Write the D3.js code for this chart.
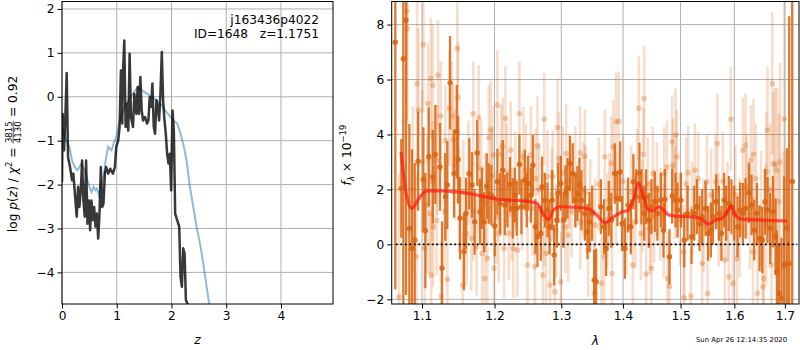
<!DOCTYPE html>
<html><head><meta charset="utf-8">
<script src="https://cdn.jsdelivr.net/npm/d3@7"></script>
<style>body{margin:0;background:#fff}</style>
</head><body><svg id="c" width="800" height="350"></svg>
<script>
// ---------------- DATA ----------------
// Left panel: log p(z) (dark line)
const pzZ = [0.000,0.012,0.037,0.061,0.086,0.110,0.147,0.183,0.208,0.245,0.269,0.294,0.318,0.343,0.367,0.391,0.416,0.440,0.465,0.489,0.514,0.538,0.563,0.587,0.612,0.636,0.661,0.685,0.709,0.734,0.758,0.783,0.807,0.844,0.881,0.930,0.966,0.991,1.028,1.052,1.076,1.101,1.113,1.138,1.162,1.187,1.211,1.235,1.260,1.297,1.321,1.358,1.382,1.407,1.431,1.456,1.480,1.517,1.554,1.578,1.602,1.627,1.651,1.676,1.700,1.725,1.749,1.774,1.798,1.823,1.847,1.872,1.896,1.920,1.945,1.969,1.994,2.018,2.043,2.067,2.104,2.141,2.165,2.190,2.214,2.239,2.263,2.300,2.340,2.360];
const pzLog = [-1.94,-0.39,-1.22,-0.46,0.54,-1.37,-1.60,-1.90,-1.75,-2.36,-2.73,-2.05,-2.51,-2.13,-1.45,-2.36,-2.73,-1.45,-2.89,-2.36,-3.04,-2.36,-2.81,-2.51,-2.96,-2.66,-3.23,-2.66,-1.60,-2.51,-2.43,-1.75,-1.60,-1.75,-1.64,-1.75,-1.60,-1.14,-0.99,-0.69,0.60,-0.61,0.52,1.28,-0.69,-0.16,-0.77,0.98,-0.46,-0.69,0.07,-0.39,0.22,-0.39,0.45,-0.31,-0.54,-0.46,-0.61,-0.54,-0.01,-0.23,0.30,-0.69,-0.84,-0.08,-0.23,-0.54,0.07,1.02,-0.08,-0.54,-0.84,-1.30,-1.52,-1.30,-2.13,-0.31,-0.77,-2.66,-2.81,-2.96,-4.10,-4.33,-3.45,-3.57,-4.63,-4.74,-4.75,-5.60];
// Left panel: chi2 curve (blue line)
const chiZ = [0.000,0.024,0.073,0.135,0.183,0.232,0.281,0.318,0.355,0.379,0.416,0.465,0.502,0.538,0.575,0.612,0.636,0.673,0.709,0.758,0.807,0.844,0.869,0.905,0.942,0.991,1.040,1.089,1.150,1.211,1.272,1.333,1.382,1.443,1.505,1.578,1.639,1.700,1.761,1.823,1.884,1.957,2.031,2.104,2.165,2.226,2.275,2.336,2.398,2.459,2.520,2.581,2.642,2.691,2.750];
const chiLogP = [-0.69,-0.77,-0.99,-1.14,-1.45,-1.60,-1.67,-1.60,-1.52,-1.60,-1.67,-1.90,-2.05,-2.17,-2.05,-2.13,-2.09,-2.24,-2.05,-1.83,-1.37,-1.14,-1.18,-1.22,-1.07,-0.92,-0.61,-0.42,-0.23,-0.08,0.03,0.14,0.20,0.16,0.11,0.05,-0.01,-0.05,-0.12,-0.20,-0.31,-0.42,-0.54,-0.61,-0.84,-1.14,-1.45,-2.05,-2.51,-2.96,-3.34,-3.80,-4.33,-4.74,-5.20];
const zTicks = [0,1,2,3,4];
const logpTicks = [-4,-3,-2,-1,0,1,2];

// Right panel: combined spectrum (dark orange)
const darkLam = [
1.0653,1.0730,1.0756,1.0791,1.0834,1.0869,1.0904,1.0948,1.1018,1.1044,
1.1089,1.1142,1.1177,1.1240,1.1267,1.1312,1.1339,1.1376,1.1431,1.1468,
1.1486,1.1513,1.1568,1.1596,1.1642,1.1679,1.1717,1.1753,1.1793,1.1821,
1.1850,1.1888,1.1917,1.1954,1.2003,1.2041,1.2079,1.2119,1.2148,1.2186,
1.2225,1.2265,1.2294,1.2324,1.2363,1.2393,1.2443,1.2473,1.2493,1.2534,
1.2564,1.2603,1.2634,1.2685,1.2705,1.2746,1.2786,1.2817,1.2858,1.2889,
1.2931,1.2951,1.2993,1.3034,1.3065,1.3097,1.3138,1.3180,1.3222,1.3254,
1.3286,1.3318,1.3373,1.3415,1.3447,1.3491,1.3523,1.3555,1.3632,1.3686,
1.3719,1.3763,1.3806,1.3862,1.3906,1.3951,1.3984,1.4030,1.4086,1.4131,
1.4175,1.4221,1.4278,1.4312,1.4359,1.4393,1.4440,1.4485,1.4544,1.4589,
1.4650,1.4696,1.4721,1.4802,1.4850,1.4910,1.4946,1.5006,1.5066,1.5126,
1.5199,1.5248,1.5298,1.5346,1.5394,1.5456,1.5505,1.5555,1.5593,1.5655,
1.5706,1.5754,1.5806,1.5844,1.5895,1.5945,1.5997,1.6061,1.6112,1.6164,
1.6216,1.6282,1.6333,1.6386,1.6439,1.6491,1.6544,1.6598,1.6650,1.6703,
1.6758,1.6810,1.6838,1.6879,1.6931,1.6986,1.7041,1.7088,1.7150];
const darkFlux = [
7.36,2.04,6.76,8.16,0.58,-0.15,0.16,3.03,2.36,0.50,
3.19,2.46,3.27,2.82,-0.87,1.73,2.16,5.88,2.58,4.10,
3.09,0.95,-0.27,1.13,2.56,2.16,0.82,3.33,1.19,1.67,
0.82,2.12,1.85,1.79,0.67,2.28,1.49,2.70,1.43,1.61,
2.18,1.31,1.79,1.31,2.91,1.37,2.34,1.61,2.22,1.79,
2.88,0.64,0.28,0.40,2.10,1.61,1.25,0.64,1.61,-0.39,
0.88,1.88,2.22,0.88,1.88,2.04,2.95,2.58,1.61,1.85,
2.16,1.61,1.13,0.46,0.82,1.13,-1.30,-1.36,1.37,0.64,
-0.15,1.31,0.88,2.58,1.67,2.64,0.76,-0.15,1.43,0.64,
2.28,1.73,2.60,1.73,1.13,1.73,0.88,1.37,1.55,1.13,
1.61,0.52,1.64,-0.45,1.76,1.61,1.25,1.61,0.16,1.13,
0.28,1.13,1.37,0.76,1.01,1.31,0.40,0.52,1.01,1.55,
1.13,0.40,1.61,1.13,1.49,1.37,1.13,0.64,1.25,1.13,
1.31,1.88,1.43,0.52,1.13,0.22,0.16,1.55,1.25,0.58,
1.19,0.28,-0.99,-1.78,-1.96,-0.73,0.60,-0.70,2.29];
const darkErr = [
9.0,1.8,9.0,10.0,3.8,3.6,2.8,1.8,1.9,2.1,
1.8,1.7,1.8,1.6,1.7,1.6,1.6,1.7,1.6,1.7,
1.6,1.5,1.4,1.3,1.3,1.2,1.2,1.2,1.2,1.1,
1.1,1.2,1.1,1.1,1.1,1.2,1.1,1.1,1.1,1.0,
1.0,1.1,1.0,1.0,1.1,1.0,1.1,1.0,1.0,1.0,
1.1,1.0,1.1,1.0,1.1,1.0,1.0,1.0,1.1,1.1,
1.0,1.1,1.0,1.0,1.0,1.1,1.0,1.1,1.0,1.0,
1.0,1.1,1.0,1.0,1.1,1.0,1.1,1.2,1.0,1.0,
1.0,1.0,1.0,1.1,1.0,1.1,1.0,1.1,1.0,1.0,
1.0,1.0,1.1,1.0,1.0,1.0,1.0,1.0,1.1,1.0,
1.0,1.0,1.1,1.0,1.0,1.0,1.0,1.0,1.0,1.0,
1.0,1.0,1.0,1.0,1.0,1.0,1.0,1.0,1.0,1.0,
1.0,1.0,1.0,1.0,1.0,1.0,1.0,1.1,1.0,1.1,
1.1,1.1,1.1,1.1,1.1,1.2,1.2,1.2,1.2,1.3,
1.3,1.4,1.5,1.8,2.2,3.2,2.9,9.0,12.0];

// Right panel: individual beam spectra (light orange)
const lightLam = [
1.0700,1.0800,1.0808,1.0880,1.0927,1.0935,1.0953,1.1000,1.1018,1.1036,
1.1071,1.1080,1.1106,1.1116,1.1120,1.1140,1.1142,1.1150,1.1195,1.1204,
1.1213,1.1249,1.1258,1.1300,1.1312,1.1339,1.1366,1.1403,1.1421,1.1440,
1.1476,1.1486,1.1500,1.1550,1.1560,1.1605,1.1630,1.1669,1.1697,1.1700,
1.1745,1.1774,1.1780,1.1811,1.1821,1.1860,1.1870,1.1897,1.1917,1.1946,
1.1960,1.1984,1.1993,1.2030,1.2041,1.2060,1.2090,1.2098,1.2118,1.2138,
1.2157,1.2180,1.2206,1.2235,1.2250,1.2274,1.2300,1.2333,1.2363,1.2400,
1.2423,1.2460,1.2483,1.2534,1.2560,1.2594,1.2603,1.2634,1.2660,1.2716,
1.2736,1.2740,1.2766,1.2786,1.2827,1.2850,1.2869,1.2900,1.2920,1.2941,
1.2962,1.2993,1.3020,1.3066,1.3076,1.3107,1.3128,1.3160,1.3220,1.3297,
1.3300,1.3350,1.3373,1.3383,1.3426,1.3460,1.3523,1.3540,1.3600,1.3642,
1.3686,1.3697,1.3740,1.3773,1.3806,1.3816,1.3839,1.3880,1.3884,1.3929,
1.4000,1.4060,1.4140,1.4165,1.4209,1.4240,1.4267,1.4301,1.4330,1.4347,
1.4359,1.4393,1.4420,1.4460,1.4485,1.4510,1.4532,1.4580,1.4640,1.4700,
1.4708,1.4756,1.4766,1.4802,1.4850,1.4860,1.4900,1.4910,1.4934,1.4990,
1.5053,1.5066,1.5100,1.5138,1.5187,1.5210,1.5260,1.5320,1.5394,1.5420,
1.5481,1.5493,1.5560,1.5643,1.5680,1.5700,1.5780,1.5819,1.5870,1.5895,
1.5933,1.5972,1.6020,1.6049,1.6100,1.6164,1.6216,1.6240,1.6300,1.6321,
1.6361,1.6373,1.6420,1.6452,1.6520,1.6558,1.6570,1.6620,1.6624,1.6650,
1.6700,1.6730,1.6744,1.6771,1.6800,1.6838,1.6879,1.6900,1.6972,1.6986];
const lightFlux = [
-1.90,8.50,7.85,2.00,-0.45,5.85,4.88,3.00,7.28,-0.15,
1.43,5.13,1.13,6.04,-1.12,2.30,5.79,0.64,0.88,3.07,
6.16,4.67,-1.90,1.20,3.79,-1.27,4.95,4.67,3.82,2.90,
7.13,5.35,1.60,-1.48,1.90,0.40,2.60,0.22,4.76,1.20,
-0.08,4.62,2.20,2.76,-0.33,-1.24,1.50,-0.51,3.88,4.16,
2.50,3.25,-0.87,1.00,5.07,0.40,2.00,3.28,3.55,-0.15,
4.58,2.60,0.40,3.43,1.10,-0.15,2.30,-0.21,4.76,1.60,
3.19,2.70,-0.75,3.25,1.30,-0.81,2.40,3.58,2.00,-1.12,
4.56,0.90,-0.33,2.46,-1.48,1.80,2.48,-1.72,0.50,4.25,
3.12,-1.36,2.60,0.64,3.31,0.34,2.28,1.20,2.50,3.33,
0.80,2.00,3.21,1.88,-0.21,1.40,-1.78,0.70,2.20,-1.42,
-0.45,3.19,0.90,1.61,2.95,-1.06,3.55,1.70,4.46,4.48,
2.30,0.60,1.90,-0.75,0.82,2.50,4.95,0.40,1.40,3.28,
5.31,-1.08,2.20,0.60,-0.87,2.58,1.03,2.00,1.10,0.50,
2.58,2.82,-1.24,-1.52,3.73,2.88,1.90,3.98,3.19,0.90,
-0.27,-1.94,2.20,2.61,-1.88,1.30,2.70,2.40,-0.69,0.70,
2.28,-1.78,1.80,2.28,3.67,0.90,2.30,-0.57,1.20,-1.18,
4.56,-1.42,1.80,-0.51,0.60,3.43,3.61,2.10,1.00,3.07,
-0.27,3.28,2.40,-1.78,1.30,-1.54,-1.24,0.70,2.64,4.16,
2.00,-0.75,5.85,2.95,2.90,2.70,1.55,3.00,-0.81,4.56];
const lightErr = [
4.5,4.0,3.5,3.0,3.0,3.0,3.0,2.6,2.5,2.5,
2.5,2.2,2.2,2.2,2.2,2.2,2.2,2.2,2.0,2.0,
2.0,2.0,2.0,2.0,2.0,2.0,2.1,2.0,2.0,2.0,
2.1,2.0,1.9,1.9,1.9,1.9,1.9,1.9,1.9,1.8,
1.8,1.9,1.8,1.8,1.8,1.8,1.8,1.8,1.9,1.8,
1.8,1.8,1.8,1.7,2.0,1.8,1.7,1.8,1.8,1.8,
1.9,1.8,1.7,1.8,1.7,1.8,1.8,1.7,1.9,1.8,
1.8,1.7,1.8,1.8,1.7,1.8,1.8,1.8,1.7,1.8,
1.7,1.7,1.8,1.7,1.8,1.7,1.7,1.8,1.7,1.8,
1.7,1.8,1.7,1.7,1.8,1.7,1.7,1.7,1.8,1.7,
1.7,1.7,1.7,1.7,1.7,1.7,1.8,1.7,1.7,1.7,
1.7,1.7,1.7,1.7,1.7,1.7,1.7,1.7,1.8,1.8,
1.7,1.7,1.7,1.7,1.7,1.7,1.9,1.7,1.7,1.7,
1.9,1.7,1.7,1.7,1.7,1.7,1.7,1.7,1.7,1.7,
1.7,1.7,1.7,1.7,1.7,1.7,1.7,1.7,1.7,1.7,
1.7,1.7,1.7,1.7,1.7,1.7,1.7,1.7,1.7,1.7,
1.7,1.7,1.7,1.7,1.8,1.7,1.8,1.7,1.8,1.8,
1.9,1.8,1.8,1.8,1.8,1.9,1.9,1.9,1.9,2.0,
2.0,2.0,2.0,2.0,2.1,2.1,2.1,2.2,2.2,2.3,
2.4,2.4,2.6,2.6,2.8,3.0,3.2,3.6,4.2,4.5];

// Right panel: best-fit model (red)
const modelLam = [1.0726,1.0790,1.0865,1.0974,1.1062,1.1240,1.1652,1.2000,1.2523,1.2624,1.2720,1.2801,1.2878,1.2982,1.3245,1.3458,1.3566,1.3702,1.3839,1.3980,1.4090,1.4175,1.4261,1.4347,1.4433,1.4510,1.4607,1.4696,1.4784,1.4934,1.5234,1.5387,1.5510,1.5636,1.5793,1.5888,1.5940,1.6016,1.6112,1.6572,1.7048];
const modelFlux = [3.37,1.90,1.31,1.73,1.95,1.95,1.85,1.66,1.55,1.49,1.13,0.91,1.25,1.37,1.35,1.27,1.07,0.79,1.00,1.18,1.25,1.61,2.24,1.73,1.25,1.22,1.37,1.25,1.07,1.03,1.00,0.91,0.74,0.88,1.00,1.27,1.40,1.07,0.93,0.88,0.85];
const zeroLam = [1.066,1.725];
const lamTicks = [1.1,1.2,1.3,1.4,1.5,1.6,1.7];
const fluxTicks = [-2,0,2,4,6,8];

// ---------------- DRAWING ----------------
const FONT = "'DejaVu Sans', sans-serif";
const FS = 12.2;
const svg = d3.select('#c');
svg.append('rect').attr('width',800).attr('height',350).attr('fill','#fff');
const defs = svg.append('defs');

function grid(g, xs, ys, X, Y, box){
  g.selectAll(null).data(xs).join('line')
    .attr('x1',d=>X(d)).attr('x2',d=>X(d)).attr('y1',box.y0).attr('y2',box.y1)
    .attr('stroke','#b0b0b0').attr('stroke-width',1);
  g.selectAll(null).data(ys).join('line')
    .attr('y1',d=>Y(d)).attr('y2',d=>Y(d)).attr('x1',box.x0).attr('x2',box.x1)
    .attr('stroke','#b0b0b0').attr('stroke-width',1);
}
function styleAxis(g){
  g.attr('font-family',FONT).attr('font-size',FS);
  g.select('.domain').remove();
  g.selectAll('.tick line').attr('stroke','#000');
  g.selectAll('.tick text').attr('fill','#000');
}
function frame(box){
  svg.append('rect').attr('x',box.x0).attr('y',box.y0)
    .attr('width',box.x1-box.x0).attr('height',box.y1-box.y0)
    .attr('fill','none').attr('stroke','#000').attr('stroke-width',1);
}
function clip(id, box){
  defs.append('clipPath').attr('id',id).append('rect')
    .attr('x',box.x0).attr('y',box.y0).attr('width',box.x1-box.x0).attr('height',box.y1-box.y0);
}

// ----- Left panel -----
const LB = {x0:62, x1:333, y0:1.5, y1:304};
const zX = d3.scaleLinear().domain([0,4.95]).range([LB.x0,LB.x1]);
const pY = d3.scaleLinear().domain([-4.72,2.17]).range([LB.y1,LB.y0]);
clip('clipL', LB);
grid(svg.append('g'), zTicks, logpTicks, zX, pY, LB);
const gLd = svg.append('g').attr('clip-path','url(#clipL)');
const lineL = d3.line().x(d=>zX(d[0])).y(d=>pY(d[1]));
gLd.append('path').datum(d3.zip(chiZ, chiLogP)).attr('d',lineL)
  .attr('fill','none').attr('stroke','#1f77b4').attr('stroke-opacity',0.5).attr('stroke-width',2);
gLd.append('path').datum(d3.zip(pzZ, pzLog)).attr('d',lineL)
  .attr('fill','none').attr('stroke','#000').attr('stroke-opacity',0.78).attr('stroke-width',2.5)
  .attr('stroke-linejoin','round');
svg.append('g').attr('transform',`translate(0,${LB.y1})`)
  .call(d3.axisBottom(zX).tickValues(zTicks).tickSize(4.5).tickPadding(3).tickFormat(d3.format('d'))).call(styleAxis);
svg.append('g').attr('transform',`translate(${LB.x0},0)`)
  .call(d3.axisLeft(pY).tickValues(logpTicks).tickSize(4.5).tickPadding(3).tickFormat(d3.format('d'))).call(styleAxis);
frame(LB);

// annotation
const ann = svg.append('g').attr('font-family',FONT).attr('font-size',FS).attr('text-anchor','end').attr('fill','#000');
ann.append('text').attr('x',319).attr('y',24).text('j163436p4022');
ann.append('text').attr('x',319).attr('y',38).style('white-space','pre').text('ID=1648   z=1.1751');

// x label
svg.append('text').attr('x',(LB.x0+LB.x1)/2).attr('y',344).attr('text-anchor','middle')
  .attr('font-family',FONT).attr('font-size',FS).attr('font-style','italic').text('z');

// y label with fraction
(function(){
  const g = svg.append('g').attr('transform','translate(17,154) rotate(-90)')
    .attr('font-family',FONT).attr('fill','#000');
  const inner = g.append('g');
  const t1 = inner.append('text').attr('font-size',FS).attr('x',0).attr('y',0).style('white-space','pre');
  t1.append('tspan').text('log ');
  t1.append('tspan').attr('font-style','italic').text('p');
  t1.append('tspan').text('(');
  t1.append('tspan').attr('font-style','italic').text('z');
  t1.append('tspan').text(') / ');
  t1.append('tspan').attr('font-style','italic').text('χ');
  t1.append('tspan').attr('font-size',8.5).attr('dy',-5).text('2');
  t1.append('tspan').attr('dy',5).text(' = ');
  const w1 = t1.node().getComputedTextLength();
  const num = inner.append('text').attr('font-size',8.5).attr('text-anchor','middle').attr('y',-5.5).text('3815');
  const den = inner.append('text').attr('font-size',8.5).attr('text-anchor','middle').attr('y',3.5).text('4130');
  const wf = Math.max(num.node().getComputedTextLength(), den.node().getComputedTextLength()) + 1;
  num.attr('x', w1 + wf/2); den.attr('x', w1 + wf/2);
  inner.append('line').attr('x1',w1).attr('x2',w1+wf).attr('y1',-3.8).attr('y2',-3.8).attr('stroke','#000').attr('stroke-width',0.7);
  const t3 = inner.append('text').attr('font-size',FS).attr('x',w1+wf).attr('y',0).style('white-space','pre').text(' = 0.92');
  const W = w1 + wf + t3.node().getComputedTextLength();
  inner.attr('transform',`translate(${-W/2},0)`);
})();

// ----- Right panel -----
const RB = {x0:391.7, x1:799, y0:1.5, y1:304};
const lX = d3.scaleLog().domain([1.0607,1.729]).range([RB.x0,RB.x1]);
const fY = d3.scaleLinear().domain([-2.17,8.84]).range([RB.y1,RB.y0]);
clip('clipR', RB);
grid(svg.append('g'), lamTicks, fluxTicks, lX, fY, RB);
const gR = svg.append('g').attr('clip-path','url(#clipR)');
const ORANGE = 'rgb(217,102,18)';

function spectrum(lam, flux, err, barOpacity, dotOpacity, r, bw){
  const pts = d3.zip(lam, flux, err);
  const g = gR.append('g');
  g.selectAll(null).data(pts).join('line')
    .attr('x1',d=>lX(d[0])).attr('x2',d=>lX(d[0]))
    .attr('y1',d=>fY(d[1]-d[2])).attr('y2',d=>fY(d[1]+d[2]))
    .attr('stroke',ORANGE).attr('stroke-opacity',barOpacity).attr('stroke-width',bw);
  g.selectAll(null).data(pts).join('circle')
    .attr('cx',d=>lX(d[0])).attr('cy',d=>fY(d[1])).attr('r',r)
    .attr('fill',ORANGE).attr('fill-opacity',dotOpacity);
}
spectrum(lightLam, lightFlux, lightErr, 0.22, 0.32, 2.8, 2.6);
spectrum(darkLam, darkFlux, darkErr, 0.88, 0.9, 2.7, 2.3);

gR.append('path').datum(d3.zip(modelLam, modelFlux))
  .attr('d', d3.line().x(d=>lX(d[0])).y(d=>fY(d[1])).curve(d3.curveMonotoneX))
  .attr('fill','none').attr('stroke','#ff1a10').attr('stroke-opacity',0.72).attr('stroke-width',3.2)
  .attr('stroke-linejoin','round');
gR.append('path').datum(zeroLam.map(l=>[l,0]))
  .attr('d', d3.line().x(d=>lX(d[0])).y(d=>fY(d[1])))
  .attr('stroke','#000').attr('stroke-width',1.8).attr('stroke-dasharray','1.8,2.7');

svg.append('g').attr('transform',`translate(0,${RB.y1})`)
  .call(d3.axisBottom(lX).tickValues(lamTicks).tickSize(4.5).tickPadding(3).tickFormat(d3.format('.1f'))).call(styleAxis);
svg.append('g').attr('transform',`translate(${RB.x0},0)`)
  .call(d3.axisLeft(fY).tickValues(fluxTicks).tickSize(4.5).tickPadding(3).tickFormat(d3.format('d'))).call(styleAxis);
frame(RB);

svg.append('text').attr('x',(RB.x0+RB.x1)/2).attr('y',345).attr('text-anchor','middle')
  .attr('font-family',FONT).attr('font-size',FS).attr('font-style','italic').text('λ');

(function(){
  const g = svg.append('g').attr('transform','translate(351,155) rotate(-90)')
    .attr('font-family',FONT).attr('fill','#000');
  const t = g.append('text').attr('font-size',FS).attr('text-anchor','middle').style('white-space','pre');
  t.append('tspan').attr('font-style','italic').text('f');
  t.append('tspan').attr('font-size',8.5).attr('font-style','italic').attr('dy',3).text('λ');
  t.append('tspan').attr('dy',-3).text(' × 10');
  t.append('tspan').attr('font-size',8.5).attr('dy',-5).text('−19');
})();

svg.append('text').attr('x',696).attr('y',342).attr('font-family',FONT).attr('font-size',6.9)
  .attr('fill','#000').text('Sun Apr 26 12:14:35 2020');
</script></body></html>
